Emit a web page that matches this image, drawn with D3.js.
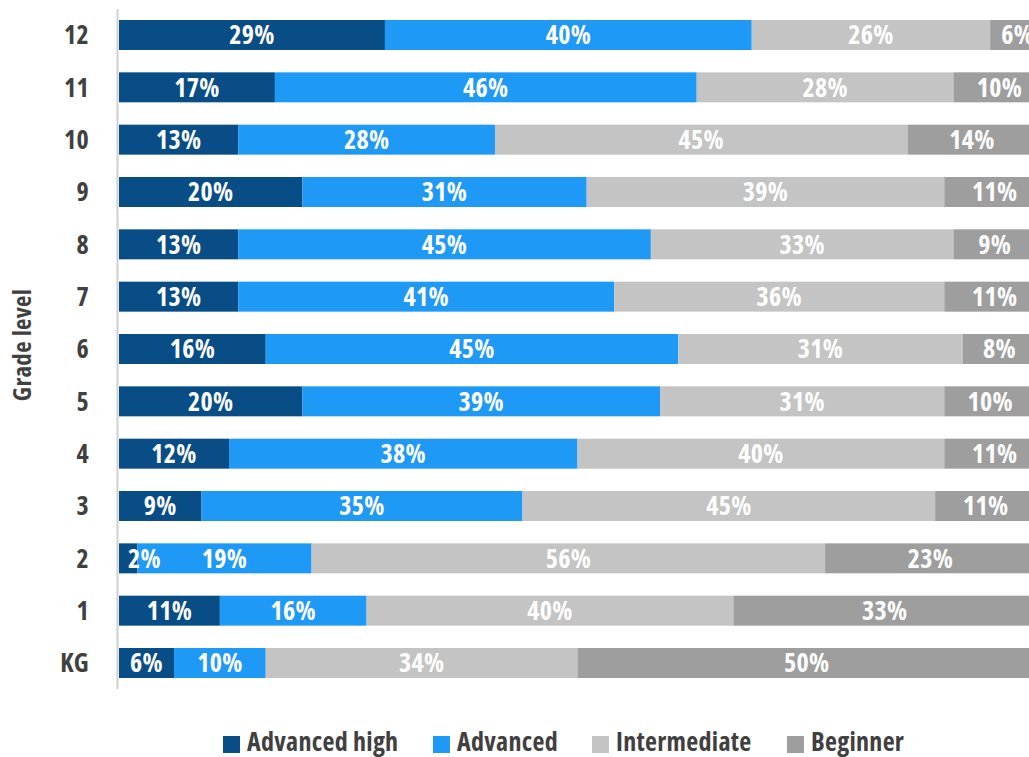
<!DOCTYPE html>
<html>
<head>
<meta charset="utf-8">
<script src="https://cdn.jsdelivr.net/npm/d3@7"></script>
<style>
  html, body { margin: 0; padding: 0; background: #fff; }
  svg { display: block; }
  text { font-family: "Open Sans", "Liberation Sans Narrow", sans-serif; font-weight: 700; font-stretch: 75%; letter-spacing: 0.3px; }
</style>
</head>
<body>
<svg id="chart" width="1029" height="757"></svg>
<script>
// Grade levels, top to bottom
const grades = ["12", "11", "10", "9", "8", "7", "6", "5", "4", "3", "2", "1", "KG"];

// Share of students per proficiency level (%)
const advancedHigh = [29, 17, 13, 20, 13, 13, 16, 20, 12, 9, 2, 11, 6];
const advanced     = [40, 46, 28, 31, 45, 41, 45, 39, 38, 35, 19, 16, 10];
const intermediate = [26, 28, 45, 39, 33, 36, 31, 31, 40, 45, 56, 40, 34];
const beginner     = [6, 10, 14, 11, 9, 11, 8, 10, 11, 11, 23, 33, 50];

const levels = ["Advanced high", "Advanced", "Intermediate", "Beginner"];
const levelValues = [advancedHigh, advanced, intermediate, beginner];
const colors = ["#084d86", "#1f99f6", "#c4c4c4", "#9e9e9e"];

const rows = grades.map((g, i) => {
  const r = { grade: g };
  levels.forEach((l, k) => { r[l] = levelValues[k][i]; });
  return r;
});

const svg = d3.select("#chart");

const x = d3.scaleLinear().domain([0, 100]).range([119, 1036]);
const y = d3.scaleBand().domain(grades).range([20, 678]).paddingInner(0.427).paddingOuter(0);
const color = d3.scaleOrdinal().domain(levels).range(colors);

const series = d3.stack().keys(levels)(rows);

// Bars
const layers = svg.append("g").selectAll("g")
  .data(series)
  .join("g")
  .attr("fill", d => color(d.key));

layers.selectAll("rect")
  .data(d => d.map(p => ({ p, key: d.key })))
  .join("rect")
  .attr("x", d => x(d.p[0]))
  .attr("y", d => y(d.p.data.grade))
  .attr("width", d => x(d.p[1]) - x(d.p[0]))
  .attr("height", y.bandwidth());

// Value labels inside segments
const labels = svg.append("g");
series.forEach(s => {
  s.forEach(p => {
    const v = p.data[s.key];
    const x0 = x(p[0]), x1 = x(p[1]);
    const t = labels.append("text")
      .attr("y", y(p.data.grade) + y.bandwidth() / 2)
      .attr("dy", "0.36em")
      .attr("fill", "#fff")
      .attr("font-size", 26)
      .text(v + "%");
    const w = t.node().getComputedTextLength();
    if (w + 6 > x1 - x0) {
      t.attr("x", x0 + 9).attr("text-anchor", "start");
    } else {
      t.attr("x", (x0 + x1) / 2).attr("text-anchor", "middle");
    }
  });
});

// Vertical baseline
svg.append("line")
  .attr("x1", 117.5).attr("x2", 117.5)
  .attr("y1", 9).attr("y2", 689)
  .attr("stroke", "#d0d0d0")
  .attr("stroke-width", 2);

// Category axis
const yAxis = svg.append("g")
  .attr("transform", "translate(89,0)")
  .call(d3.axisLeft(y).tickSize(0).tickPadding(0));
yAxis.select(".domain").remove();
yAxis.selectAll("text")
  .attr("font-size", 26)
  .attr("fill", "#404040")
  .attr("dy", "0.36em")
  .style("font-family", null);

// Axis title
svg.append("text")
  .attr("transform", "translate(31,345) rotate(-90)")
  .attr("text-anchor", "middle")
  .attr("font-size", 25)
  .attr("fill", "#404040")
  .text("Grade level");

// Legend
const legendX = [223, 433, 592, 787];
const legend = svg.append("g").selectAll("g")
  .data(levels)
  .join("g")
  .attr("transform", (d, i) => `translate(${legendX[i]},736)`);
legend.append("rect")
  .attr("width", 17).attr("height", 17)
  .attr("fill", d => color(d));
legend.append("text")
  .attr("x", 24).attr("y", 15)
  .attr("font-size", 26)
  .attr("fill", "#404040")
  .text(d => d);
</script>
</body>
</html>
